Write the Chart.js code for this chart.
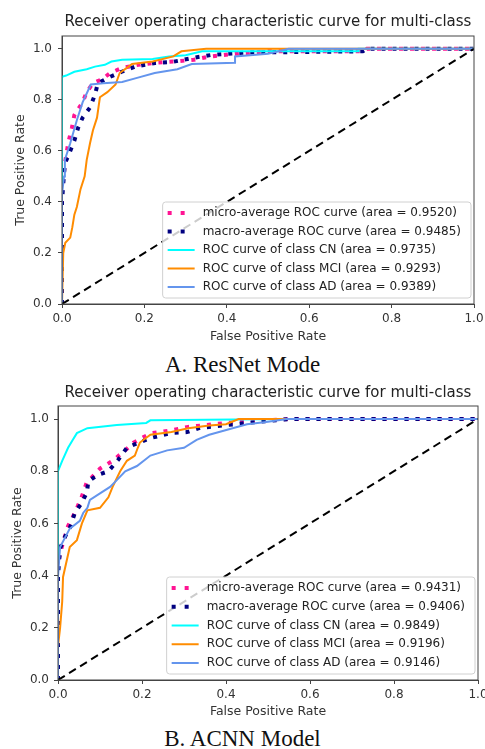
<!DOCTYPE html>
<html>
<head>
<meta charset="utf-8">
<script src="https://cdn.jsdelivr.net/npm/chart.js@4.4.0/dist/chart.umd.min.js"></script>
<style>
  body { margin: 0; background: #fff; width: 485px; height: 749px; position: relative; overflow: hidden; }
  canvas { position: absolute; left: 0; }
  .cap { position: absolute; left: 0; width: 485px; text-align: center; font-family: 'Liberation Serif', 'Times New Roman', serif; font-size: 23px; line-height: 26px; color: #111; }
</style>
</head>
<body>
<canvas id="chartA" width="485" height="350" style="top:0"></canvas>
<div class="cap" style="top:352px">A. ResNet Mode</div>
<canvas id="chartB" width="485" height="352" style="top:372px"></canvas>
<div class="cap" style="top:726px">B. ACNN Model</div>
<script>
var tickValues = [0, 0.2, 0.4, 0.6, 0.8, 1.0];
var curveNames = ['micro-average ROC curve', 'macro-average ROC curve', 'ROC curve of class CN', 'ROC curve of class MCI', 'ROC curve of class AD'];
var curveColors = ['#ff1493', '#000080', '#00ffff', '#ff8c00', '#6495ed'];
var areaA = [0.9520, 0.9485, 0.9735, 0.9293, 0.9389];
var areaB = [0.9431, 0.9406, 0.9849, 0.9196, 0.9146];
var diagX = [0, 1];
var diagY = [0, 1];

// A. ResNet
var microFprA = [0, 0, 0.007, 0.015, 0.024, 0.03, 0.05, 0.06, 0.075, 0.097, 0.117, 0.146, 0.185, 0.225, 0.274, 0.32, 0.36, 0.42, 0.5, 0.73, 0.74, 1];
var microTprA = [0, 0.45, 0.55, 0.63, 0.69, 0.74, 0.79, 0.83, 0.865, 0.88, 0.905, 0.925, 0.937, 0.945, 0.95, 0.957, 0.97, 0.98, 0.99, 0.99, 1, 1];
var macroFprA = [0, 0, 0.003, 0.007, 0.02, 0.03, 0.039, 0.05, 0.068, 0.08, 0.087, 0.117, 0.145, 0.177, 0.226, 0.267, 0.32, 0.364, 0.45, 0.73, 0.74, 1];
var macroTprA = [0, 0.4, 0.47, 0.55, 0.6, 0.64, 0.69, 0.73, 0.77, 0.82, 0.865, 0.89, 0.91, 0.93, 0.944, 0.948, 0.965, 0.976, 0.985, 0.99, 1, 1];
var cnFprA = [0, 0, 0.01, 0.03, 0.06, 0.08, 0.104, 0.12, 0.146, 0.22, 0.26, 0.3, 0.34, 0.72, 0.72, 1];
var cnTprA = [0, 0.89, 0.895, 0.91, 0.92, 0.93, 0.937, 0.95, 0.957, 0.96, 0.97, 0.975, 0.99, 0.99, 1, 1];
var mciFprA = [0, 0.003, 0.008, 0.02, 0.025, 0.03, 0.036, 0.045, 0.055, 0.06, 0.068, 0.075, 0.085, 0.092, 0.11, 0.13, 0.14, 0.17, 0.22, 0.27, 0.29, 0.35, 1];
var mciTprA = [0, 0.2, 0.24, 0.26, 0.3, 0.35, 0.38, 0.45, 0.5, 0.565, 0.63, 0.68, 0.73, 0.81, 0.83, 0.86, 0.905, 0.94, 0.95, 0.97, 0.99, 1, 1];
var adFprA = [0, 0, 0.005, 0.007, 0.02, 0.036, 0.05, 0.07, 0.1, 0.146, 0.18, 0.225, 0.28, 0.315, 0.42, 0.42, 0.5, 0.55, 1];
var adTprA = [0, 0.43, 0.5, 0.565, 0.63, 0.72, 0.79, 0.86, 0.865, 0.87, 0.885, 0.905, 0.92, 0.94, 0.945, 0.97, 0.98, 1, 1];

// B. ACNN
var microFprB = [0, 0, 0.009, 0.024, 0.04, 0.056, 0.068, 0.1, 0.13, 0.16, 0.18, 0.22, 0.27, 0.31, 0.4, 0.5, 0.55, 1];
var microTprB = [0, 0.45, 0.51, 0.59, 0.64, 0.70, 0.755, 0.81, 0.84, 0.88, 0.91, 0.945, 0.957, 0.97, 0.985, 0.995, 1, 1];
var macroFprB = [0, 0, 0.005, 0.017, 0.029, 0.04, 0.057, 0.069, 0.072, 0.093, 0.12, 0.143, 0.164, 0.19, 0.22, 0.267, 0.307, 0.338, 0.45, 0.55, 1];
var macroTprB = [0, 0.4, 0.505, 0.55, 0.586, 0.64, 0.68, 0.72, 0.76, 0.785, 0.80, 0.843, 0.89, 0.908, 0.927, 0.946, 0.95, 0.966, 0.985, 1, 1];
var cnFprB = [0, 0, 0.01, 0.024, 0.035, 0.045, 0.07, 0.14, 0.21, 0.22, 0.55, 1];
var cnTprB = [0, 0.8, 0.84, 0.89, 0.92, 0.946, 0.965, 0.977, 0.985, 0.995, 1, 1];
var mciFprB = [0, 0, 0.005, 0.01, 0.012, 0.028, 0.045, 0.057, 0.07, 0.1, 0.12, 0.13, 0.148, 0.164, 0.183, 0.19, 0.195, 0.22, 0.27, 0.31, 0.36, 0.4, 0.43, 1];
var mciTprB = [0, 0.13, 0.2, 0.3, 0.395, 0.51, 0.536, 0.6, 0.65, 0.66, 0.70, 0.74, 0.80, 0.84, 0.86, 0.89, 0.91, 0.94, 0.95, 0.965, 0.975, 0.98, 1, 1];
var adFprB = [0, 0, 0.005, 0.028, 0.052, 0.06, 0.07, 0.076, 0.1, 0.124, 0.14, 0.16, 0.188, 0.22, 0.26, 0.3, 0.33, 0.36, 0.45, 0.5, 0.545, 1];
var adTprB = [0, 0.395, 0.51, 0.58, 0.61, 0.64, 0.66, 0.69, 0.715, 0.74, 0.766, 0.80, 0.82, 0.86, 0.88, 0.89, 0.92, 0.94, 0.98, 0.99, 1, 1];

Chart.defaults.font.family = "'DejaVu Sans', sans-serif";
Chart.defaults.color = '#333';

function toPoints(xs, ys) {
  return xs.map(function (x, i) { return { x: x, y: ys[i] }; });
}

function makeChart(id, curves, areas, box) {
  var canvas = document.getElementById(id);
  var H = canvas.height;
  var datasets = [];
  var items = [];
  curves.forEach(function (c, i) {
    var dotted = i < 2;
    datasets.push({
      data: toPoints(c[0], c[1]),
      borderColor: curveColors[i],
      borderWidth: dotted ? 4 : 2,
      borderDash: dotted ? [4, 7] : [],
      pointRadius: 0,
      showLine: true,
      tension: 0,
      order: 10 - i
    });
    items.push({ text: curveNames[i] + ' (area = ' + areas[i].toFixed(4) + ')', color: curveColors[i], dotted: dotted });
  });
  datasets.push({
    data: toPoints(diagX, diagY),
    borderColor: '#000',
    borderWidth: 2,
    borderDash: [8, 5],
    pointRadius: 0,
    showLine: true,
    order: 1
  });

  // frame + legend in the lower right like matplotlib
  var rocLegend = {
    id: 'rocLegend',
    afterDraw: function (chart) {
      var ctx = chart.ctx, a = chart.chartArea;
      ctx.save();
      ctx.strokeStyle = '#444';
      ctx.lineWidth = 1;
      ctx.strokeRect(a.left, a.top, a.right - a.left, a.bottom - a.top);
      ctx.font = "12px 'DejaVu Sans'";
      var w = 0;
      items.forEach(function (it) { w = Math.max(w, ctx.measureText(it.text).width); });
      var rowH = box.rowH, bw = w + 50, bh = 22 + rowH * 4;
      var bx = a.right - 3 - bw, by = a.bottom - 6 - bh;
      ctx.beginPath();
      ctx.roundRect(bx, by, bw, bh, 3);
      ctx.fillStyle = 'rgba(255,255,255,0.8)';
      ctx.fill();
      ctx.strokeStyle = '#d0d0d0';
      ctx.stroke();
      items.forEach(function (it, i) {
        var y = by + 11 + i * rowH;
        ctx.strokeStyle = it.color;
        ctx.lineWidth = it.dotted ? 4 : 2;
        ctx.setLineDash(it.dotted ? [4, 9] : []);
        ctx.beginPath();
        ctx.moveTo(bx + 5, y);
        ctx.lineTo(bx + (it.dotted ? 22 : 32), y);
        ctx.stroke();
        ctx.setLineDash([]);
        ctx.fillStyle = '#222';
        ctx.textBaseline = 'middle';
        ctx.fillText(it.text, bx + 40, y);
      });
      ctx.restore();
    }
  };

  return new Chart(canvas, {
    type: 'scatter',
    data: { datasets: datasets },
    options: {
      responsive: false,
      animation: false,
      layout: { padding: { left: 0, right: 485 - box.right, top: 0, bottom: 0 } },
      plugins: {
        legend: { display: false },
        tooltip: { enabled: false },
        title: {
          display: true,
          fullSize: false,
          text: 'Receiver operating characteristic curve for multi-class',
          color: '#222',
          font: { size: 15, weight: 'normal' },
          padding: { top: box.titleTop, bottom: box.titleBottom }
        }
      },
      scales: {
        x: {
          type: 'linear', min: 0, max: 1,
          afterFit: function (s) { s.height = H - box.bottom; s.paddingLeft = 0; s.paddingRight = 0; },
          afterBuildTicks: function (s) { s.ticks = tickValues.map(function (v) { return { value: v }; }); },
          ticks: { callback: function (v) { return v.toFixed(1); }, font: { size: 12 }, padding: 4, maxRotation: 0, autoSkip: false },
          grid: { drawOnChartArea: false, tickLength: 4, color: '#444' },
          border: { color: '#444' },
          title: { display: true, text: 'False Positive Rate', font: { size: 12.5 }, padding: { top: 0, bottom: box.xTitlePad } }
        },
        y: {
          type: 'linear', min: 0, max: 1.05,
          afterFit: function (s) { s.width = box.left; s.paddingTop = 0; s.paddingBottom = 0; },
          afterBuildTicks: function (s) { s.ticks = tickValues.map(function (v) { return { value: v }; }); },
          ticks: { callback: function (v) { return v.toFixed(1); }, font: { size: 12 }, padding: box.labelPad },
          grid: { drawOnChartArea: false, tickLength: 4, color: '#444' },
          border: { color: '#444' },
          title: { display: true, text: 'True Positive Rate', font: { size: 12.5 }, padding: { top: box.yTitlePad, bottom: 0 } }
        }
      }
    },
    plugins: [rocLegend]
  });
}

makeChart('chartA',
  [[microFprA, microTprA], [macroFprA, macroTprA], [cnFprA, cnTprA], [mciFprA, mciTprA], [adFprA, adTprA]],
  areaA,
  { left: 62, right: 474, bottom: 304, titleTop: 13, titleBottom: 5, xTitlePad: 5.5, yTitlePad: 13.5, labelPad: 6, rowH: 18.5 });

makeChart('chartB',
  [[microFprB, microTprB], [macroFprB, macroTprB], [cnFprB, cnTprB], [mciFprB, mciTprB], [adFprB, adTprB]],
  areaB,
  { left: 58, right: 478, bottom: 308, titleTop: 12, titleBottom: 4, xTitlePad: 4.5, yTitlePad: 10.5, labelPad: 5, rowH: 18.75 });
</script>
</body>
</html>
